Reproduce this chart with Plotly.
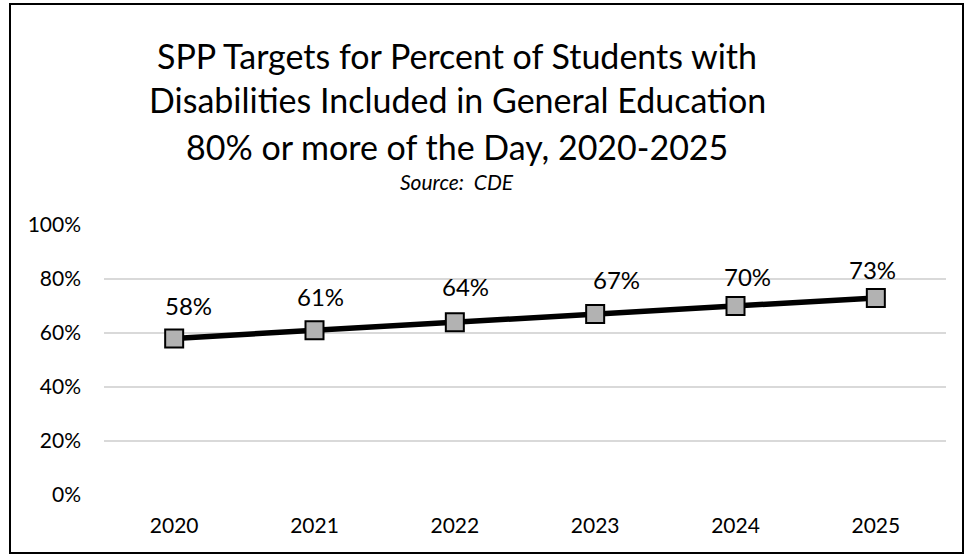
import plotly.graph_objects as go

years = ["2020", "2021", "2022", "2023", "2024", "2025"]
targets = [58, 61, 64, 67, 70, 73]
y_ticks = [0, 20, 40, 60, 80, 100]
y_tick_labels = ["0%", "20%", "40%", "60%", "80%", "100%"]
title_lines = [
    "SPP Targets for Percent of Students with",
    "Disabilities Included in General Education",
    "80% or more of the Day, 2020-2025",
]
source_text = "Source:  CDE"

# label nudges (pixels), style only
label_dx = [14, 6, 11, 21, 12, -3]
label_dy = [33, 34, 36, 35, 30, 28]

W, H = 975, 554
L, R, T, B = 104, 29, 225, 59
PW, PH = W - L - R, H - T - B
FONT = "Lato"

def px_x(x):
    return (x - L) / PW

def px_y(y):
    return (H - B - y) / PH

fig = go.Figure()
fig.add_trace(go.Scatter(
    x=years, y=targets, mode="lines+markers",
    line=dict(color="black", width=5.5),
    marker=dict(symbol="square", size=18, color="#b2b2b2",
                line=dict(color="black", width=2)),
    hoverinfo="skip", showlegend=False,
))

annotations = []
for i, v in enumerate(targets):
    annotations.append(dict(
        x=i, y=v, xref="x", yref="y", text=f"{v}%", showarrow=False,
        xshift=label_dx[i], yshift=label_dy[i],
        font=dict(family=FONT, size=24, color="black"),
        xanchor="center", yanchor="middle",
    ))

title_y = [55, 100, 146]
for line, yp in zip(title_lines, title_y):
    annotations.append(dict(
        x=px_x(457), y=px_y(yp), xref="paper", yref="paper", text=line,
        showarrow=False, xanchor="center", yanchor="middle",
        font=dict(family=FONT, size=34, color="black"),
    ))
annotations.append(dict(
    x=px_x(457), y=px_y(181), xref="paper", yref="paper",
    text=f"<i>{source_text}</i>", showarrow=False,
    xanchor="center", yanchor="middle",
    font=dict(family=FONT, size=21, color="black"),
))

fig.update_layout(
    width=W, height=H,
    margin=dict(l=L, r=R, t=T, b=B),
    paper_bgcolor="white", plot_bgcolor="white",
    annotations=annotations,
    shapes=[dict(type="rect", xref="paper", yref="paper",
                 x0=px_x(10), x1=px_x(963), y0=px_y(553), y1=px_y(4),
                 line=dict(color="black", width=2))],
    xaxis=dict(
        type="category", range=[-0.5, 5.5], showgrid=False, zeroline=False,
        showline=False, ticks="", ticklabelstandoff=16,
        tickfont=dict(family=FONT, size=21, color="black"),
    ),
    yaxis=dict(
        range=[0, 100], tickvals=y_ticks, ticktext=y_tick_labels,
        showgrid=True, gridcolor="#d9d9d9", gridwidth=1.5, zeroline=False,
        showline=False, ticks="", ticklabelstandoff=22,
        tickfont=dict(family=FONT, size=21, color="black"),
    ),
)

fig.write_html("out.html", config={"displayModeBar": False},
               post_script="document.body.style.margin='0';")
